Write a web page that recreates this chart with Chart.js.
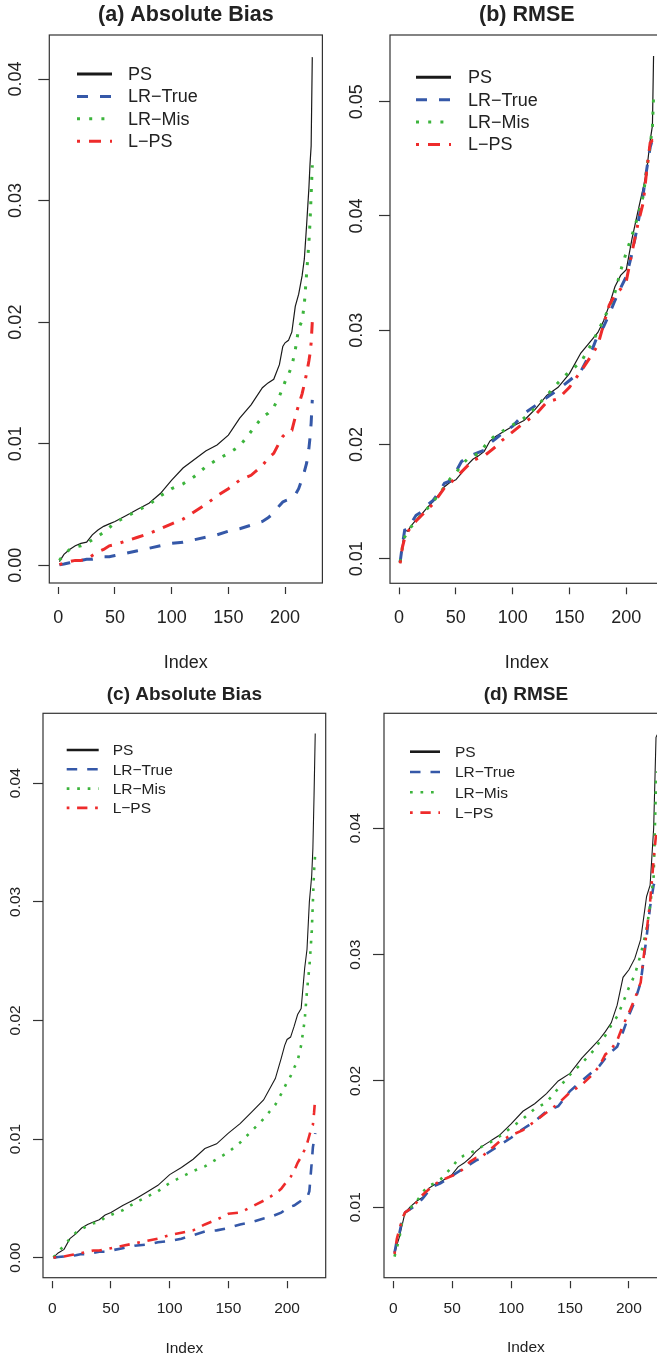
<!DOCTYPE html>
<html lang="en">
<head>
<meta charset="UTF-8">
<title>Absolute Bias and RMSE</title>
<style>
  html, body { margin: 0; padding: 0; background: #fff; overflow: hidden; }
  body { width: 657px; height: 1358px; position: relative; }
  .panel { position: absolute; }
</style>
</head>
<body>
<div class="panel" style="left:0;top:0"><canvas id="chartA" width="330" height="680"></canvas></div>
<div class="panel" style="left:330px;top:0"><canvas id="chartB" width="340" height="680"></canvas></div>
<div class="panel" style="left:0;top:680px"><canvas id="chartC" width="330" height="678"></canvas></div>
<div class="panel" style="left:330px;top:680px"><canvas id="chartD" width="345" height="678"></canvas></div>

<script src="https://cdn.jsdelivr.net/npm/chart.js"></script>
<script>
  var seriesNames = ['PS', 'LR\u2212True', 'LR\u2212Mis', 'L\u2212PS'];
  var seriesColors = ['#1a1a1a', '#3558a8', '#3cb43c', '#ee2b2b'];

  var xTicks = [0, 50, 100, 150, 200];
  var yTicksA = [0, 0.01, 0.02, 0.03, 0.04];
  var yTicksB = [0.01, 0.02, 0.03, 0.04, 0.05];
  var yTicksC = [0, 0.01, 0.02, 0.03, 0.04];
  var yTicksD = [0.01, 0.02, 0.03, 0.04];

  // index positions used for the absolute bias panels (a, c)
  var indexBias = [1, 5, 10, 15, 20, 25, 30, 35, 40, 45, 50, 60, 70, 80, 90, 100, 110, 120, 130, 140,
    150, 160, 170, 180, 185, 190, 195, 198, 200, 203, 206, 209, 212, 215, 217, 219, 221, 222, 223, 224];
  // index positions used for the RMSE panels (b, d)
  var indexRmse = [1, 3, 5, 8, 10, 15, 20, 25, 30, 35, 40, 45, 50, 55, 60, 65, 70, 75, 80, 85,
    90, 100, 110, 120, 130, 140, 150, 160, 170, 175, 180, 185, 190, 195, 200, 205, 210, 215, 218, 221, 223, 224];

  // (a) Absolute Bias
  var psA = [0.0003, 0.0009, 0.0013, 0.0016, 0.0018, 0.0019, 0.0025, 0.0029, 0.0032, 0.0034,
    0.0036, 0.0041, 0.0046, 0.0051, 0.0059, 0.0070, 0.0080, 0.0087, 0.0094, 0.0099,
    0.0107, 0.0121, 0.0132, 0.0146, 0.0150, 0.0153, 0.0165, 0.0180, 0.0183, 0.0185,
    0.0192, 0.0213, 0.0223, 0.0238, 0.0252, 0.0280, 0.0310, 0.0330, 0.0345, 0.0418];
  var lrTrueA = [0.00003, 0.0001, 0.0002, 0.0003, 0.0004, 0.0005, 0.0005, 0.0006, 0.0007, 0.0007,
    0.0008, 0.0010, 0.0012, 0.0014, 0.0016, 0.0018, 0.0019, 0.0021, 0.0023, 0.0025,
    0.0028, 0.0030, 0.0033, 0.0036, 0.0039, 0.0043, 0.0049, 0.0052, 0.0053, 0.0054,
    0.0055, 0.0058, 0.0063, 0.0071, 0.0077, 0.0084, 0.0096, 0.0105, 0.0117, 0.0136];
  var lrMisA = [0.0004, 0.0009, 0.0013, 0.0015, 0.0016, 0.0018, 0.0021, 0.0024, 0.0027, 0.0031,
    0.0035, 0.0040, 0.0045, 0.0050, 0.0057, 0.0063, 0.0067, 0.0073, 0.0081, 0.0087,
    0.0092, 0.0098, 0.0110, 0.0122, 0.0125, 0.0130, 0.0139, 0.0146, 0.0151, 0.0157,
    0.0164, 0.0177, 0.0195, 0.0201, 0.0215, 0.0240, 0.0265, 0.0282, 0.0305, 0.0329];
  var lpsA = [0.00005, 0.0002, 0.0003, 0.0004, 0.0004, 0.0005, 0.0008, 0.0011, 0.0013, 0.0016,
    0.0017, 0.0020, 0.0023, 0.0026, 0.0030, 0.0034, 0.0038, 0.0044, 0.0050, 0.0057,
    0.0063, 0.0070, 0.0074, 0.0082, 0.0088, 0.0092, 0.0101, 0.0106, 0.0108, 0.0110,
    0.0111, 0.0122, 0.0132, 0.0141, 0.0149, 0.0158, 0.0168, 0.0174, 0.0183, 0.0200];

  // (b) RMSE
  var psB = [0.0096, 0.0112, 0.0125, 0.0124, 0.0128, 0.0134, 0.0139, 0.0145, 0.0150, 0.0156,
    0.0163, 0.0167, 0.0169, 0.0175, 0.0182, 0.0187, 0.0190, 0.0194, 0.0203, 0.0207,
    0.0210, 0.0216, 0.0221, 0.0231, 0.0243, 0.0250, 0.0262, 0.0280, 0.0292, 0.0298,
    0.0308, 0.0322, 0.0338, 0.0348, 0.0353, 0.0380, 0.0403, 0.0425, 0.0440, 0.0466, 0.0479, 0.0540];
  var lrTrueB = [0.0097, 0.0112, 0.0125, 0.0126, 0.0130, 0.0138, 0.0141, 0.0147, 0.0151, 0.0158,
    0.0166, 0.0168, 0.0176, 0.0185, 0.0189, 0.0191, 0.0193, 0.0195, 0.0201, 0.0205,
    0.0209, 0.0216, 0.0227, 0.0234, 0.0241, 0.0248, 0.0256, 0.0264, 0.0283, 0.0296,
    0.0303, 0.0314, 0.0326, 0.0337, 0.0347, 0.0367, 0.0392, 0.0420, 0.0441, 0.0460, 0.0467, 0.0468];
  var lrMisB = [0.0097, 0.0110, 0.0119, 0.0124, 0.0127, 0.0133, 0.0139, 0.0144, 0.0150, 0.0156,
    0.0163, 0.0170, 0.0175, 0.0182, 0.0187, 0.0190, 0.0192, 0.0198, 0.0204, 0.0208,
    0.0211, 0.0217, 0.0223, 0.0232, 0.0243, 0.0254, 0.0264, 0.0272, 0.0289, 0.0299,
    0.0309, 0.0320, 0.0333, 0.0352, 0.0368, 0.0383, 0.0399, 0.0418, 0.0441, 0.0462, 0.0478, 0.0504];
  var lpsB = [0.0096, 0.0110, 0.0118, 0.0124, 0.0127, 0.0133, 0.0138, 0.0143, 0.0148, 0.0155,
    0.0162, 0.0166, 0.0171, 0.0176, 0.0181, 0.0186, 0.0188, 0.0190, 0.0194, 0.0198,
    0.0203, 0.0211, 0.0219, 0.0226, 0.0237, 0.0240, 0.0250, 0.0264, 0.0279, 0.0287,
    0.0305, 0.0322, 0.0331, 0.0336, 0.0343, 0.0368, 0.0392, 0.0412, 0.0440, 0.0464, 0.0466, 0.0466];

  // (c) Absolute Bias
  var psC = [0.00003, 0.0004, 0.0007, 0.0016, 0.0020, 0.0025, 0.0028, 0.0030, 0.0032, 0.0036,
    0.0038, 0.0044, 0.0049, 0.0055, 0.0061, 0.0070, 0.0076, 0.0083, 0.0092, 0.0096,
    0.0105, 0.0113, 0.0123, 0.0133, 0.0142, 0.0151, 0.0168, 0.0179, 0.0184, 0.0186,
    0.0195, 0.0205, 0.0210, 0.0244, 0.0260, 0.0300, 0.0322, 0.0345, 0.0390, 0.0442];
  var lrTrueC = [0.0, 0.00005, 0.0001, 0.00015, 0.0002, 0.0003, 0.0003, 0.0004, 0.0005, 0.0005,
    0.0006, 0.0008, 0.0010, 0.0011, 0.0013, 0.0014, 0.0016, 0.0019, 0.0022, 0.0023,
    0.0025, 0.0028, 0.0030, 0.0033, 0.0034, 0.0036, 0.0038, 0.0040, 0.0042, 0.0043,
    0.0044, 0.0046, 0.0048, 0.0049, 0.0050, 0.0056, 0.0080, 0.0093, 0.0099, 0.0105];
  var lrMisC = [0.00003, 0.0005, 0.0010, 0.0016, 0.0021, 0.0024, 0.0027, 0.0029, 0.0030, 0.0034,
    0.0036, 0.0040, 0.0046, 0.0051, 0.0056, 0.0063, 0.0068, 0.0073, 0.0077, 0.0083,
    0.0089, 0.0097, 0.0107, 0.0117, 0.0123, 0.0129, 0.0138, 0.0144, 0.0148, 0.0153,
    0.0160, 0.0166, 0.0179, 0.0200, 0.0225, 0.0245, 0.0274, 0.0300, 0.0326, 0.0341];
  var lpsC = [0.0, 0.00005, 0.0001, 0.0002, 0.0003, 0.0004, 0.0005, 0.0006, 0.0006, 0.0007,
    0.0008, 0.0010, 0.0012, 0.0014, 0.0016, 0.0019, 0.0021, 0.0023, 0.0028, 0.0032,
    0.0037, 0.0038, 0.0043, 0.0048, 0.0051, 0.0054, 0.0058, 0.0062, 0.0064, 0.0068,
    0.0073, 0.0080, 0.0085, 0.0091, 0.0096, 0.0103, 0.0110, 0.0112, 0.0122, 0.0135];

  // (d) RMSE
  var psD = [0.0062, 0.0070, 0.0076, 0.0088, 0.0096, 0.0101, 0.0105, 0.0108, 0.0115, 0.0118,
    0.0120, 0.0123, 0.0126, 0.0132, 0.0135, 0.0139, 0.0144, 0.0148, 0.0151, 0.0154,
    0.0157, 0.0166, 0.0176, 0.0182, 0.0190, 0.0200, 0.0206, 0.0218, 0.0228, 0.0233,
    0.0239, 0.0246, 0.0260, 0.0282, 0.0288, 0.0297, 0.0312, 0.0346, 0.0355, 0.0400, 0.0472, 0.0474];
  var lrTrueD = [0.0064, 0.0074, 0.0079, 0.0092, 0.0096, 0.0099, 0.0102, 0.0107, 0.0113, 0.0117,
    0.0119, 0.0122, 0.0125, 0.0128, 0.0131, 0.0134, 0.0137, 0.0139, 0.0143, 0.0146,
    0.0149, 0.0155, 0.0162, 0.0168, 0.0176, 0.0180, 0.0192, 0.0200, 0.0208, 0.0212,
    0.0218, 0.0223, 0.0227, 0.0239, 0.0252, 0.0263, 0.0278, 0.0314, 0.0338, 0.0355, 0.0360, 0.0363];
  var lrMisD = [0.0061, 0.0068, 0.0075, 0.0091, 0.0096, 0.0100, 0.0105, 0.0112, 0.0117, 0.0119,
    0.0122, 0.0127, 0.0132, 0.0138, 0.0141, 0.0143, 0.0145, 0.0148, 0.0150, 0.0153,
    0.0156, 0.0163, 0.0170, 0.0178, 0.0183, 0.0194, 0.0205, 0.0214, 0.0224, 0.0231,
    0.0236, 0.0244, 0.0251, 0.0262, 0.0274, 0.0284, 0.0300, 0.0320, 0.0339, 0.0362, 0.0436, 0.0445];
  var lpsD = [0.0063, 0.0075, 0.0082, 0.0092, 0.0096, 0.0099, 0.0104, 0.0110, 0.0114, 0.0118,
    0.0121, 0.0123, 0.0125, 0.0127, 0.0131, 0.0136, 0.0139, 0.0140, 0.0144, 0.0148,
    0.0152, 0.0157, 0.0161, 0.0168, 0.0175, 0.0182, 0.0191, 0.0197, 0.0206, 0.0212,
    0.0221, 0.0225, 0.0232, 0.0244, 0.0254, 0.0265, 0.0278, 0.0318, 0.0342, 0.0375, 0.0395, 0.0397];

  var fontFamily = "'Liberation Sans', Arial, Helvetica, sans-serif";
  Chart.defaults.font.family = fontFamily;
  Chart.defaults.color = '#222';

  // R draws a full box round the plot region
  var boxPlugin = {
    id: 'rBox',
    afterDraw: function(chart) {
      var ctx = chart.ctx, a = chart.chartArea;
      ctx.save();
      ctx.strokeStyle = '#333';
      ctx.lineWidth = 1.2;
      ctx.strokeRect(a.left, a.top, a.right - a.left, a.bottom - a.top);
      ctx.restore();
    }
  };

  // legend inside the plot, top left, R style
  var legendPlugin = {
    id: 'rLegend',
    afterDraw: function(chart) {
      var o = chart.options.plugins.rLegend;
      var ctx = chart.ctx, a = chart.chartArea;
      ctx.save();
      chart.data.datasets.forEach(function(ds, i) {
        var y = a.top + o.top + i * o.step;
        var x0 = a.left + o.left;
        ctx.strokeStyle = ds.borderColor;
        ctx.lineWidth = o.lineWidth;
        ctx.setLineDash(ds.borderDash || []);
        ctx.beginPath();
        ctx.moveTo(x0, y);
        ctx.lineTo(x0 + o.length, y);
        ctx.stroke();
        ctx.setLineDash([]);
        ctx.fillStyle = '#222';
        ctx.font = o.size + 'px ' + fontFamily;
        ctx.textBaseline = 'middle';
        ctx.fillText(ds.label, x0 + o.textGap, y + 1);
      });
      ctx.restore();
    }
  };

  function makeChart(id, p) {
    var datasets = seriesNames.map(function(name, k) {
      return {
        label: name,
        data: p.index.map(function(x, i) { return { x: x, y: p.series[k][i] }; }),
        borderColor: seriesColors[k],
        borderWidth: k === 0 ? p.thin : p.lw,
        borderDash: p.dashes[k],
        pointRadius: 0,
        tension: 0,
        fill: false,
        order: 4 - k
      };
    });

    new Chart(document.getElementById(id), {
      type: 'line',
      data: { datasets: datasets },
      options: {
        responsive: false,
        animation: false,
        events: [],
        layout: { padding: { left: 0, right: p.padRight, top: 0, bottom: 0 } },
        scales: {
          x: {
            type: 'linear',
            min: -7.92,
            max: 232.92,
            afterBuildTicks: function(s) { s.ticks = xTicks.map(function(v) { return { value: v }; }); },
            afterFit: function(s) { s.height = p.xHeight; },
            border: { display: false },
            grid: {
              drawOnChartArea: false,
              tickLength: p.xTick,
              tickColor: '#333',
              tickWidth: 1.2,
              tickBorderDash: p.xTickDash
            },
            ticks: {
              font: { size: p.font },
              padding: p.xPad,
              maxRotation: 0,
              callback: function(v) { return String(v); }
            },
            title: {
              display: true,
              text: 'Index',
              font: { size: p.font },
              padding: { top: 0, bottom: p.indexPad }
            }
          },
          y: {
            type: 'linear',
            min: p.yMin,
            max: p.yMax,
            afterBuildTicks: function(s) { s.ticks = p.yTicks.map(function(v) { return { value: v }; }); },
            afterFit: function(s) { s.width = p.yWidth; },
            border: { display: false },
            grid: {
              drawOnChartArea: false,
              tickLength: p.yTick,
              tickColor: '#333',
              tickWidth: 1.2
            },
            ticks: {
              font: { size: p.font },
              minRotation: 90,
              maxRotation: 90,
              crossAlign: 'center',
              padding: p.yPad,
              callback: function(v) { return v.toFixed(2); }
            }
          }
        },
        plugins: {
          legend: { display: false },
          tooltip: { enabled: false },
          title: {
            display: true,
            text: p.title,
            fullSize: false,
            color: '#222',
            font: { size: p.titleSize, weight: 'bold' },
            padding: { top: p.titleTop, bottom: p.titleBottom }
          },
          rLegend: p.legend
        }
      },
      plugins: [boxPlugin, legendPlugin]
    });
  }

  var dashTop = [[], [11, 12], [3, 9.2], [3, 9, 12, 9]];
  var dashBottom = [[], [10.5, 10], [2.7, 7.8], [2.7, 7.7, 10.3, 7.7]];

  makeChart('chartA', {
    title: '(a) Absolute Bias', index: indexBias, series: [psA, lrTrueA, lrMisA, lpsA],
    yMin: -0.00146, yMax: 0.04362, yTicks: yTicksA,
    padRight: 7.6, yWidth: 49.3, xHeight: 97,
    titleSize: 21.5, titleTop: 2.1, titleBottom: 7.1,
    font: 18, xTick: 11, xTickDash: [0, 4, 7, 40], xPad: 13.2, indexPad: 6.2, yTick: 11, yPad: 4.8,
    thin: 1.2, lw: 3, dashes: dashTop,
    legend: { left: 27.7, top: 39, step: 22.4, length: 35, textGap: 51, size: 18, lineWidth: 3 }
  });

  makeChart('chartB', {
    title: '(b) RMSE', index: indexRmse, series: [psB, lrTrueB, lrMisB, lpsB],
    yMin: 0.007847, yMax: 0.05584, yTicks: yTicksB,
    padRight: 6.3, yWidth: 60, xHeight: 96.7,
    titleSize: 21.5, titleTop: 2.1, titleBottom: 7.1,
    font: 18, xTick: 11, xTickDash: [0, 4.5, 7, 40], xPad: 13.2, indexPad: 5.9, yTick: 11, yPad: 4.7,
    thin: 1.2, lw: 3, dashes: dashTop,
    legend: { left: 26, top: 42.3, step: 22.4, length: 35, textGap: 52, size: 18, lineWidth: 3 }
  });

  makeChart('chartC', {
    title: '(c) Absolute Bias', index: indexBias, series: [psC, lrTrueC, lrMisC, lpsC],
    yMin: -0.00169, yMax: 0.0459, yTicks: yTicksC,
    padRight: 4.3, yWidth: 43, xHeight: 80.3,
    titleSize: 19, titleTop: 3.6, titleBottom: 6.9,
    font: 15.5, xTick: 10.5, xTickDash: [0, 3, 7.5, 40], xPad: 11.5, indexPad: 0.4, yTick: 10, yPad: 2.1,
    thin: 1.1, lw: 2.6, dashes: dashBottom,
    legend: { left: 23.7, top: 36.7, step: 19.3, length: 32, textGap: 46, size: 15.5, lineWidth: 2.6 }
  });

  makeChart('chartD', {
    title: '(d) RMSE', index: indexRmse, series: [psD, lrTrueD, lrMisD, lpsD],
    yMin: 0.004427, yMax: 0.0491, yTicks: yTicksD,
    padRight: 7.3, yWidth: 54, xHeight: 80.3,
    titleSize: 19, titleTop: 3.6, titleBottom: 6.9,
    font: 15.5, xTick: 10.5, xTickDash: [0, 3, 7.5, 40], xPad: 11.5, indexPad: 0.7, yTick: 11, yPad: 2.1,
    thin: 1.1, lw: 2.6, dashes: dashBottom,
    legend: { left: 26, top: 38.4, step: 20.3, length: 30, textGap: 45, size: 15.5, lineWidth: 2.6 }
  });
</script>
</body>
</html>
